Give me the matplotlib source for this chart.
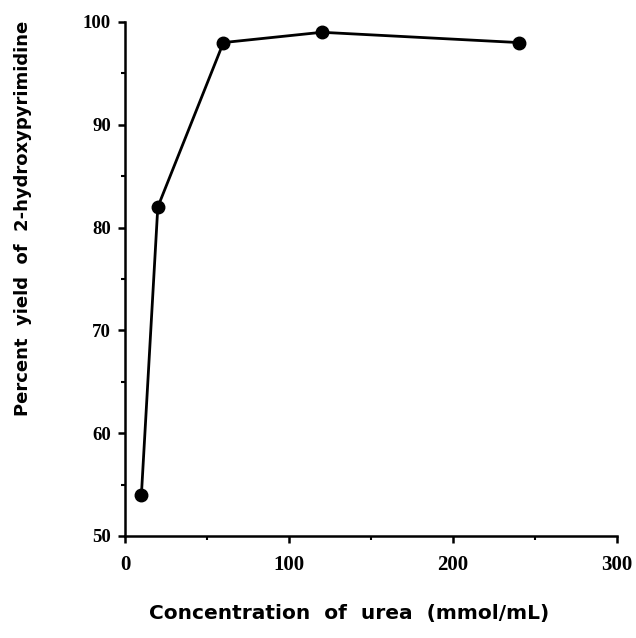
import matplotlib
matplotlib.use("Agg")
import matplotlib.pyplot as plt
from matplotlib.ticker import MultipleLocator

urea_conc = [10, 20, 60, 120, 240]
yield_pct = [54, 82, 98, 99, 98]
x_ticks = [0, 100, 200, 300]
y_ticks = [50, 60, 70, 80, 90, 100]

fig = plt.figure(figsize=(6.36, 6.38), dpi=100)
ax = fig.add_axes([125/636, 1-536/638, (617-125)/636, (536-22)/638])

ax.plot(urea_conc, yield_pct, color='black', lw=2.0, marker='o', markersize=9,
        markerfacecolor='black', markeredgecolor='black', clip_on=False)

ax.set_xlim(0, 300)
ax.set_ylim(50, 100)
ax.set_xticks(x_ticks)
ax.set_yticks(y_ticks)
ax.xaxis.set_minor_locator(MultipleLocator(50))
ax.yaxis.set_minor_locator(MultipleLocator(5))
for s in ['top', 'right']:
    ax.spines[s].set_visible(False)
for s in ['left', 'bottom']:
    ax.spines[s].set_linewidth(1.8)
ax.tick_params(which='major', direction='out', length=5, width=1.8)
ax.tick_params(which='minor', direction='out', length=3, width=1.5)
ax.tick_params(axis='x', pad=9)
ax.tick_params(axis='y', pad=5)
for lab in ax.get_xticklabels():
    lab.set_fontfamily('Liberation Serif')
    lab.set_fontweight('bold')
    lab.set_fontsize(15)
for lab in ax.get_yticklabels():
    lab.set_fontfamily('Liberation Serif')
    lab.set_fontweight('bold')
    lab.set_fontsize(13.5)

fig.text(349/636, 1-613/638, 'Concentration  of  urea  (mmol/mL)', ha='center', va='center',
         fontsize=14.5, fontweight='bold', family='DejaVu Sans')
fig.text(23/636, 1-218/638, 'Percent  yield  of  2-hydroxypyrimidine', ha='center', va='center',
         rotation=90, fontsize=13, fontweight='bold', family='DejaVu Sans')

fig.savefig('out.png', dpi=100)
